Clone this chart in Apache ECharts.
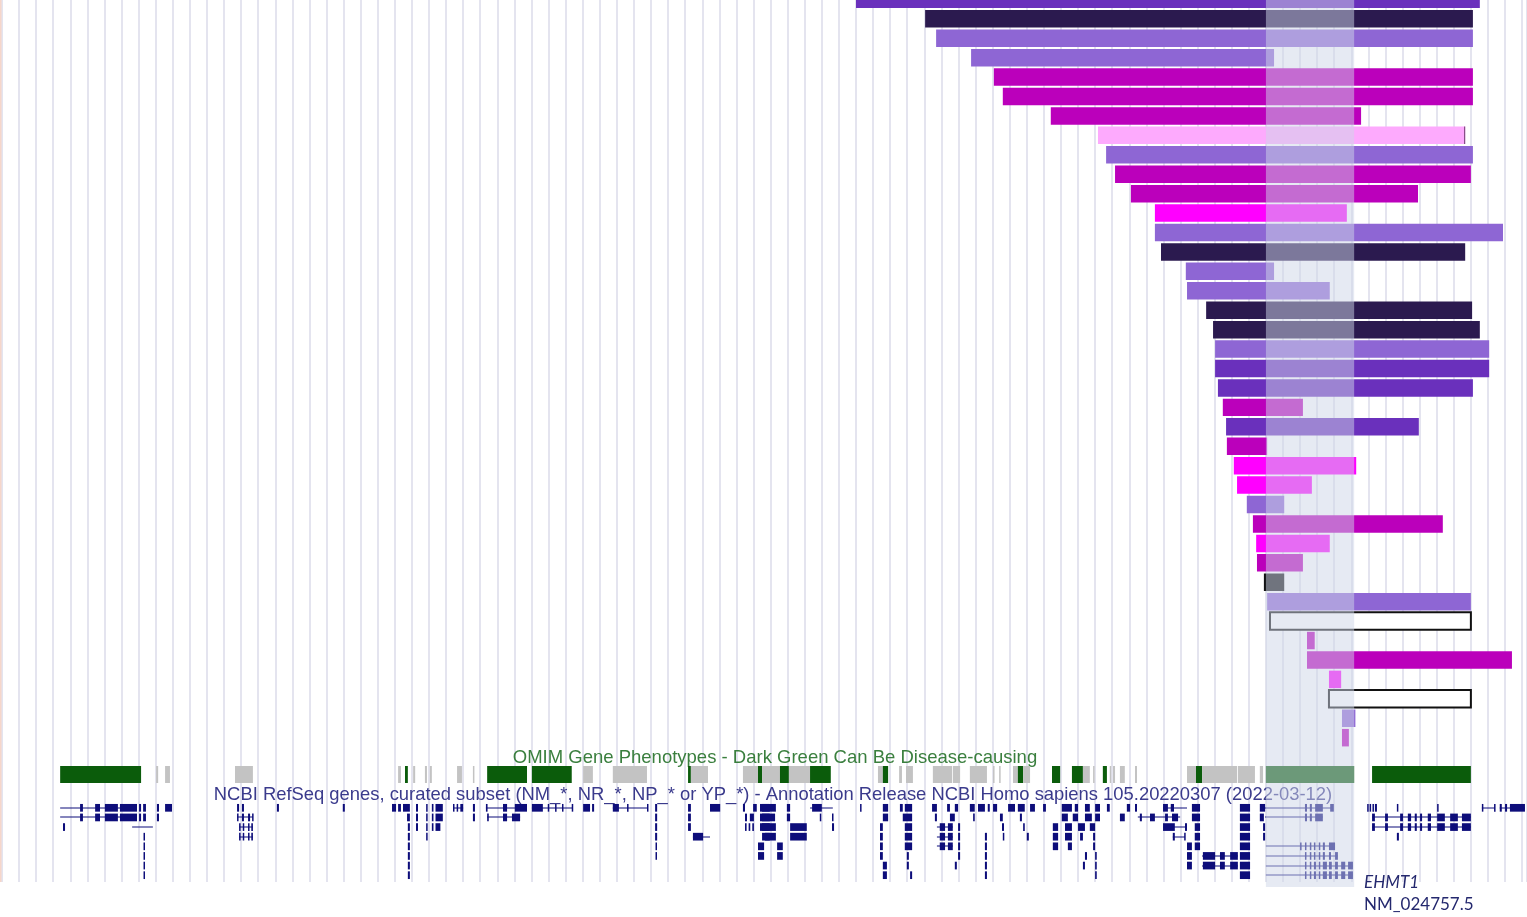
<!DOCTYPE html>
<html>
<head>
<meta charset="UTF-8">
<title>9q34.3 - EHMT1</title>
<script src="https://cdn.jsdelivr.net/npm/echarts@6/dist/echarts.min.js"></script>
<style>
    html, body{
        margin: 0;
        padding: 0;
        background: #fff;
    }
    #main{
        width: 1527px;
        height: 917px;
    }
</style>
</head>
<body>
<div id="main"></div>
<script type="text/javascript">
    // chr9 positions (kb)
    var viewStart = 137382, viewEnd = 141132;
    var gridStep = 42;
    var ehmt1Band = [140490, 140707];

    // one row per patient segment, top to bottom
    var cnvStart = [139482,139652,139679,139765,139821,139843,139961,140077,140097,140119,140158,140217,140217,140232,140293,140296,140343,140360,140365,140365,140372,140384,140392,140394,140411,140419,140443,140458,140466,140468,140485,140493,140500,140591,140591,140645,140645,140677,140677];
    var cnvEnd   = [141016,140999,140999,140510,140999,140999,140724,140980,140999,140994,140864,140689,141073,140980,140510,140647,140997,141016,141039,141039,140999,140581,140866,140493,140712,140603,140535,140925,140647,140581,140535,140994,140994,140610,141095,140675,140994,140710,140694];
    var cnvType  = ['purple','dark','lav','lav','mag','mag','mag','pink','lav','mag','mag','fuchsia','lav','dark','lav','lav','dark','dark','lav','purple','purple','mag','purple','mag','fuchsia','fuchsia','lav','mag','fuchsia','mag','black','lav','box','mag','mag','fuchsia','box','lav','mag'];

    var typeColor = {
        dark: '#2b1a4f', purple: '#6a30bc', lav: '#8e66d4', mag: '#bb00bb',
        pink: '#fdaafd', fuchsia: '#ff00ff', black: '#121214'
    };

    // OMIM track: start, end, g = disease-causing (dark green), n = other
    var omimBlocks = [
        [137525,137724,'g'],[137761,137766,'n'],[137783,137795,'n'],[137955,137999,'n'],
        [138356,138363,'n'],[138373,138380,'g'],[138393,138398,'n'],[138422,138427,'n'],[138434,138439,'n'],
        [138501,138513,'n'],[138540,138543,'n'],[138575,138673,'g'],[138685,138783,'g'],[138811,138835,'n'],
        [138884,138968,'n'],[139069,139076,'g'],[139076,139118,'n'],[139204,139241,'n'],[139241,139251,'g'],
        [139251,139295,'n'],[139295,139317,'g'],[139317,139369,'n'],[139369,139420,'g'],[139536,139548,'n'],
        [139548,139561,'g'],[139588,139595,'n'],[139605,139622,'n'],[139671,139718,'n'],[139720,139738,'n'],
        [139762,139804,'n'],[139819,139821,'n'],[139834,139836,'n'],[139868,139880,'n'],[139880,139893,'g'],
        [139893,139910,'n'],[139964,139984,'g'],[140013,140040,'g'],[140040,140057,'n'],[140065,140067,'n'],
        [140089,140099,'g'],[140106,140108,'n'],[140114,140119,'n'],[140131,140143,'n'],[140168,140173,'n'],
        [140296,140318,'n'],[140318,140333,'g'],[140333,140419,'n'],[140421,140463,'n'],[140475,140483,'n'],
        [140490,140707,'g'],[140751,140994,'g']
    ];

    // RefSeq track: row, start, end
    var geneLines = [
        [0,137525,137714],[1,137525,137714],[2,137702,137753],
        [1,137960,137999],[2,137965,137999],[3,137965,137999],[0,138491,138516],
        [0,138572,138673],[1,138575,138656],[0,138685,138786],[0,138884,138970],[3,139081,139123],
        [0,139369,139425],[2,139681,139720],[3,139681,139720],[4,139681,139720],
        [0,140237,140296],[1,140175,140279],[2,140237,140296],[3,140261,140291],
        [5,140333,140421],[6,140333,140421],
        [0,140488,140655],[1,140488,140630],
        [4,140490,140660],[5,140490,140667],[6,140490,140704],[7,140490,140704],
        [1,140751,140994],[2,140751,140994],
        [0,141021,141053],[0,141065,141127]
    ];
    var geneExons = [
        [0,137574,137581],[0,137611,137623],[0,137635,137667],[0,137672,137714],[0,137719,137724],[0,137729,137736],[0,137763,137768],[0,137783,137800],
        [1,137574,137581],[1,137611,137623],[1,137635,137667],[1,137672,137714],[1,137719,137724],[1,137729,137736],[1,137763,137768],
        [2,137532,137537],[3,137730,137732],[4,137730,137732],[5,137730,137732],[6,137730,137732],[7,137730,137732],
        [0,137960,137965],[0,137972,137977],[1,137960,137962],[1,137972,137977],[1,137987,137992],[1,137997,137999],
        [2,137965,137967],[2,137974,137977],[2,137987,137990],[2,137995,137999],
        [3,137965,137967],[3,137974,137977],[3,137987,137990],[3,137995,137999],
        [0,138058,138063],[0,138220,138225],
        [0,138341,138351],[0,138356,138363],[0,138368,138385],[1,138378,138385],[2,138380,138385],[3,138380,138385],
        [4,138380,138385],[5,138380,138385],[6,138380,138385],[7,138380,138385],
        [0,138400,138405],[1,138400,138405],[2,138400,138405],
        [0,138425,138428],[1,138425,138428],[2,138425,138428],[3,138425,138428],
        [0,138439,138443],[0,138448,138466],[1,138439,138443],[1,138448,138466],[2,138439,138443],[2,138448,138460],
        [0,138491,138493],[0,138500,138503],[0,138509,138516],[0,138540,138545],[1,138540,138545],
        [0,138572,138576],[0,138614,138624],[0,138643,138673],[0,138685,138712],[0,138724,138727],[0,138742,138745],[0,138759,138762],[0,138783,138786],
        [1,138575,138579],[1,138614,138624],[1,138636,138656],
        [0,138811,138828],[0,138833,138838],[0,138884,138899],[0,138919,138921],[0,138968,138970],
        [0,138988,138993],[1,138988,138993],[2,138988,138993],[3,138988,138993],[4,138989,138992],[5,138989,138992],
        [0,139069,139076],[1,139069,139076],[2,139069,139076],[3,139081,139106],[0,139123,139148],
        [0,139204,139209],[0,139229,139238],[0,139246,139270],
        [1,139209,139214],[1,139221,139231],[1,139246,139270],
        [2,139209,139213],[2,139218,139222],[2,139227,139231],[2,139246,139270],
        [3,139258,139270],[4,139241,139256],[5,139241,139256],
        [0,139251,139285],[0,139312,139320],[0,139374,139398],[0,139492,139494],[0,139548,139561],[0,139590,139597],[0,139602,139620],
        [0,139669,139681],[0,139706,139713],[0,139725,139733],[0,139762,139774],[0,139782,139799],[0,139806,139811],[0,139819,139829],
        [0,139856,139873],[0,139880,139897],[0,139910,139922],[0,139942,139949],[0,139988,140013],[0,140020,140028],[0,140045,140057],
        [0,140070,140082],[0,140099,140106],
        [1,139251,139283],[1,139312,139320],[1,139393,139396],[1,139423,139425],[1,139548,139561],[1,139597,139620],[1,139676,139681],
        [1,139713,139725],[1,139770,139774],[1,139836,139843],[1,139885,139890],[1,139988,140003],[1,140015,140028],[1,140045,140062],[1,140070,140082],
        [2,139251,139285],[2,139320,139361],[2,139423,139428],[2,139541,139548],[2,139602,139620],[2,139688,139701],[2,139708,139720],
        [2,139733,139738],[2,139841,139846],[2,139893,139897],[2,139966,139979],[2,139996,140013],[2,140028,140045],[2,140057,140070],
        [3,139251,139285],[3,139320,139361],[3,139541,139548],[3,139602,139620],[3,139688,139701],[3,139708,139720],[3,139733,139738],
        [3,139799,139804],[3,139843,139846],[3,139902,139907],[3,139966,139979],[3,139996,140013],[3,140033,140040],[3,140065,140070],
        [4,139288,139302],[4,139541,139548],[4,139602,139620],[4,139688,139701],[4,139708,139720],[4,139733,139738],[4,139799,139804],
        [4,139966,139979],[4,140003,140013],[4,140065,140070],
        [5,139288,139302],[5,139541,139548],[5,139607,139612],[5,139733,139738],[5,139799,139804],[5,140045,140050],[5,140070,140074],
        [6,139548,139558],[6,139607,139612],[6,139725,139730],[6,139799,139804],[6,140040,140045],[6,140070,140074],
        [7,139548,139558],[7,139615,139620],[7,139799,139804],[7,140070,140074],
        [0,140148,140156],[0,140168,140173],[0,140237,140249],[0,140256,140264],[0,140308,140328],[0,140426,140451],[0,140475,140488],
        [0,140586,140591],[0,140598,140603],[0,140611,140630],[0,140648,140657],[0,140739,140741],[0,140745,140748],[0,140752,140755],
        [0,140758,140763],[0,140812,140815],[0,140911,140913],[0,141021,141023],[0,141051,141053],[0,141065,141070],[0,141078,141083],[0,141090,141127],
        [1,140131,140143],[1,140180,140185],[1,140205,140217],[1,140242,140249],[1,140259,140274],[1,140308,140328],[1,140426,140451],
        [1,140475,140485],[1,140586,140591],[1,140598,140603],[1,140611,140630],
        [1,140751,140758],[1,140783,140790],[1,140820,140827],[1,140839,140847],[1,140856,140861],[1,140869,140874],[1,140888,140896],
        [1,140911,140930],[1,140943,140962],[1,140972,140994],
        [2,140751,140758],[2,140783,140790],[2,140820,140827],[2,140839,140847],[2,140856,140861],[2,140869,140874],[2,140888,140896],
        [2,140911,140930],[2,140943,140962],[2,140972,140994],
        [2,140237,140266],[2,140291,140296],[2,140315,140328],[2,140426,140451],[2,140483,140488],
        [3,140261,140266],[3,140289,140291],[3,140315,140328],[3,140426,140451],[3,140483,140488],[3,140812,140817],
        [4,140296,140308],[4,140315,140328],[4,140426,140451],
        [4,140574,140577],[4,140586,140589],[4,140598,140601],[4,140608,140611],[4,140620,140623],[4,140630,140635],[4,140645,140660],
        [5,140296,140308],[5,140335,140365],[5,140377,140389],[5,140402,140421],[5,140426,140451],
        [5,140586,140589],[5,140598,140601],[5,140608,140611],[5,140620,140623],[5,140630,140635],[5,140645,140650],[5,140660,140667],
        [6,140296,140308],[6,140335,140365],[6,140377,140389],[6,140402,140421],[6,140426,140451],
        [6,140586,140589],[6,140598,140601],[6,140608,140613],[6,140620,140623],[6,140630,140640],[6,140645,140652],[6,140660,140667],[6,140675,140685],[6,140692,140704],
        [7,140426,140451],
        [7,140586,140589],[7,140598,140601],[7,140608,140613],[7,140620,140623],[7,140630,140640],[7,140645,140652],[7,140660,140667],[7,140675,140685],[7,140692,140704]
    ];

    var omimTitle = 'OMIM Gene Phenotypes - Dark Green Can Be Disease-causing';
    var refseqTitle = 'NCBI RefSeq genes, curated subset (NM_*, NR_*, NP_* or YP_*) - Annotation Release NCBI Homo sapiens 105.20220307 (2022-03-12)';
    var geneName = 'EHMT1';
    var transcript = 'NM_024757.5';

    var myChart = echarts.init(document.getElementById('main'));

    var cnvData = cnvStart.map(function(s, i){ return [s, cnvEnd[i], i]; });
    var omimData = omimBlocks.map(function(b){ return [b[0], b[1], b[2] === 'g' ? 1 : 0]; });
    var lineData = geneLines.map(function(g){ return [g[1], g[2], g[0]]; });
    var exonData = geneExons.map(function(g){ return [g[1], g[2], g[0]]; });

    function xAxisFor(idx, showLines){
        return {
            type: 'value', gridIndex: idx, min: viewStart, max: viewEnd, interval: gridStep,
            show: !!showLines,
            axisLine: {show: false}, axisTick: {show: false}, axisLabel: {show: false},
            splitLine: {show: !!showLines, lineStyle: {color: '#e4e4ef', width: 2}}
        };
    }

    function renderCnv(params, api){
        var p0 = api.coord([api.value(0), api.value(2)]);
        var p1 = api.coord([api.value(1), api.value(2)]);
        var h = api.size([0, 1])[1] * 0.9;
        var t = cnvType[params.dataIndex];
        var style = t === 'box'
            ? {fill: '#ffffff', stroke: '#111111', lineWidth: 2}
            : {fill: typeColor[t]};
        if (t === 'pink') {
            style.stroke = 'rgba(90,40,90,0.7)';
            style.lineWidth = 0;
        }
        return {
            type: 'group',
            children: [
                {type: 'rect',
                    shape: {x: p0[0], y: p0[1] - h / 2, width: p1[0] - p0[0], height: h},
                    style: style},
                t === 'pink' ? {type: 'rect',
                    shape: {x: p1[0] - 1, y: p0[1] - h / 2, width: 1, height: h},
                    style: {fill: '#6d3a6d'}} : {type: 'group', children: []}
            ]
        };
    }

    function renderOmim(params, api){
        var p0 = api.coord([api.value(0), 1]);
        var p1 = api.coord([api.value(1), 0]);
        return {
            type: 'rect',
            shape: {x: p0[0], y: p0[1], width: Math.max(p1[0] - p0[0], 1.5), height: p1[1] - p0[1]},
            style: {fill: api.value(2) === 1 ? '#0b5c0b' : '#c3c3c3'}
        };
    }

    function renderGeneLine(params, api){
        var p0 = api.coord([api.value(0), api.value(2)]);
        var p1 = api.coord([api.value(1), api.value(2)]);
        return {
            type: 'rect',
            shape: {x: p0[0], y: Math.round(p0[1]) - 0.5, width: p1[0] - p0[0], height: 1},
            style: {fill: '#0d0d7a'}
        };
    }

    function renderExon(params, api){
        var p0 = api.coord([api.value(0), api.value(2)]);
        var p1 = api.coord([api.value(1), api.value(2)]);
        var h = api.size([0, 1])[1] * 0.8;
        return {
            type: 'rect',
            shape: {x: p0[0], y: p0[1] - h / 2, width: Math.max(p1[0] - p0[0], 1.5), height: h},
            style: {fill: '#0d0d7a'}
        };
    }

    function renderBand(params, api){
        var p0 = api.coord([api.value(0), 0]);
        var p1 = api.coord([api.value(1), 0]);
        var cs = params.coordSys;
        return {
            type: 'rect',
            shape: {x: p0[0], y: cs.y, width: p1[0] - p0[0], height: cs.height + 5},
            style: {fill: 'rgba(206,214,232,0.5)'}
        };
    }

    var option = {
        backgroundColor: '#ffffff',
        animation: false,
        grid: [
            {left: 2, right: 0, top: 0, height: 882},        // background lines + band
            {left: 2, right: 0, top: 0, height: 747.4},      // CNV rows (first row runs off the top)
            {left: 2, right: 0, top: 766, height: 17},       // OMIM
            {left: 2, right: 0, top: 803, height: 77}        // RefSeq
        ],
        xAxis: [xAxisFor(0, true), xAxisFor(1), xAxisFor(2), xAxisFor(3)],
        yAxis: [
            {type: 'value', gridIndex: 0, min: 0, max: 1, show: false},
            {type: 'value', gridIndex: 1, min: 0.0335, max: 38.5, inverse: true, show: false},
            {type: 'value', gridIndex: 2, min: 0, max: 1, show: false},
            {type: 'value', gridIndex: 3, min: -0.5, max: 7.5, inverse: true, show: false}
        ],
        graphic: [
            {type: 'rect', z: 1, shape: {x: 0, y: 0, width: 1.5, height: 882}, style: {fill: '#f6d6ca'}},
            {type: 'text', z: 1, x: 775, y: 758,
                style: {text: omimTitle, fill: '#3a7f3e', font: '18.5px "Liberation Sans", Arial, sans-serif', align: 'center', verticalAlign: 'middle'}},
            {type: 'text', z: 1, x: 773, y: 795,
                style: {text: refseqTitle, fill: '#3a3a8c', font: '18.4px "Liberation Sans", Arial, sans-serif', align: 'center', verticalAlign: 'middle'}},
            {type: 'text', z: 1, x: 1364, y: 883,
                style: {text: geneName, fill: '#24286e', font: 'italic 17px Lato, "Open Sans", sans-serif', align: 'left', verticalAlign: 'middle'}},
            {type: 'text', z: 1, x: 1364, y: 905,
                style: {text: transcript, fill: '#24286e', font: '17px Lato, "Open Sans", sans-serif', align: 'left', verticalAlign: 'middle'}}
        ],
        series: [
            {type: 'custom', name: 'CNV', xAxisIndex: 1, yAxisIndex: 1, renderItem: renderCnv, clip: false,
                encode: {x: [0, 1], y: 2}, data: cnvData},
            {type: 'custom', name: 'OMIM', xAxisIndex: 2, yAxisIndex: 2, renderItem: renderOmim,
                encode: {x: [0, 1]}, data: omimData},
            {type: 'custom', name: 'RefSeq introns', xAxisIndex: 3, yAxisIndex: 3, renderItem: renderGeneLine,
                encode: {x: [0, 1], y: 2}, data: lineData},
            {type: 'custom', name: 'RefSeq exons', xAxisIndex: 3, yAxisIndex: 3, renderItem: renderExon,
                encode: {x: [0, 1], y: 2}, data: exonData},
            {type: 'custom', name: 'EHMT1', xAxisIndex: 0, yAxisIndex: 0, renderItem: renderBand, z: 50,
                encode: {x: [0, 1]}, data: [ehmt1Band]}
        ]
    };

    myChart.setOption(option);
</script>
</body>
</html>
